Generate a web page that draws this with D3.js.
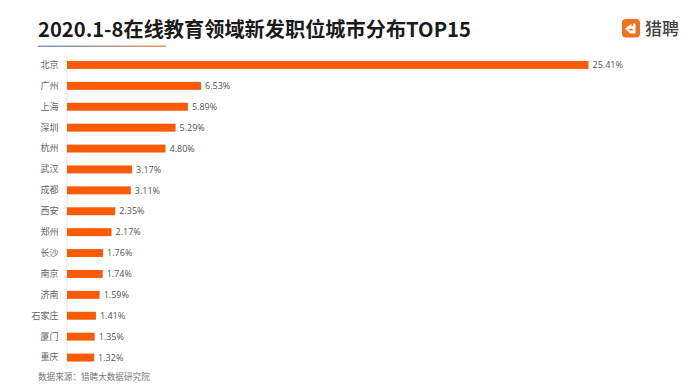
<!DOCTYPE html>
<html>
<head>
<meta charset="utf-8">
<script src="https://cdn.jsdelivr.net/npm/d3@7"></script>
<style>
  html, body { margin: 0; padding: 0; background: #fff; }
  svg { display: block; }
  text { font-family: "Noto Sans CJK SC", "Noto Sans", sans-serif; }
</style>
</head>
<body>
<div id="chart"></div>
<script>
const cities = ["北京", "广州", "上海", "深圳", "杭州", "武汉", "成都", "西安", "郑州", "长沙", "南京", "济南", "石家庄", "厦门", "重庆"];
const shares = [25.41, 6.53, 5.89, 5.29, 4.80, 3.17, 3.11, 2.35, 2.17, 1.76, 1.74, 1.59, 1.41, 1.35, 1.32];
const titleText = "2020.1-8在线教育领域新发职位城市分布TOP15";
const sourceText = "数据来源：猎聘大数据研究院";
const logoText = "猎聘";

const width = 689, height = 391;
const margin = {top: 54.5, right: 100, bottom: 23, left: 67};

const svg = d3.select("#chart").append("svg")
    .attr("width", width)
    .attr("height", height);

// title + underline
svg.append("text")
    .attr("x", 38)
    .attr("y", 37)
    .attr("font-size", 20.2)
    .attr("font-weight", 700)
    .attr("fill", "#1a1a1a")
    .text(titleText);

const grad = svg.append("defs").append("linearGradient").attr("id", "underline");
grad.append("stop").attr("offset", "0%").attr("stop-color", "#6f9bd1");
grad.append("stop").attr("offset", "100%").attr("stop-color", "#f0925f");

svg.append("rect")
    .attr("x", 38).attr("y", 45.5)
    .attr("width", 128).attr("height", 1.5)
    .attr("fill", "url(#underline)");

// scales
const x = d3.scaleLinear()
    .domain([0, 25.41])
    .range([margin.left, 588.5]);

const y = d3.scaleBand()
    .domain(cities)
    .range([margin.top, height - margin.bottom])
    .paddingInner(0.62)
    .paddingOuter(0.31);

// category axis
const yAxis = svg.append("g")
    .attr("transform", `translate(${margin.left - 0.5},0)`)
    .call(d3.axisLeft(y).tickSize(0).tickPadding(8));

yAxis.select(".domain").attr("stroke", "#e8e8e8");
yAxis.selectAll("text")
    .attr("font-size", 9)
    .attr("fill", "#666")
    .style("font-family", '"Noto Sans CJK SC", sans-serif');

// bars
svg.selectAll("rect.bar")
    .data(shares)
    .enter().append("rect")
    .attr("class", "bar")
    .attr("x", x(0))
    .attr("y", (d, i) => y(cities[i]))
    .attr("width", d => x(d) - x(0))
    .attr("height", y.bandwidth())
    .attr("fill", "#fd5a06");

// value labels
svg.selectAll("text.val")
    .data(shares)
    .enter().append("text")
    .attr("class", "val")
    .attr("x", d => x(d) + 4)
    .attr("y", (d, i) => y(cities[i]) + y.bandwidth() / 2)
    .attr("dy", "0.35em")
    .attr("font-size", 9)
    .attr("fill", "#555")
    .style("font-family", '"Open Sans", sans-serif')
    .text(d => d.toFixed(2) + "%");

// source note
svg.append("text")
    .attr("x", 38)
    .attr("y", 380)
    .attr("font-size", 8.6)
    .attr("fill", "#777")
    .text(sourceText);

// logo
const logo = svg.append("g").attr("transform", "translate(622,19)");
logo.append("rect")
    .attr("width", 18).attr("height", 18.5).attr("rx", 4)
    .attr("fill", "#f4701c");
logo.append("path")
    .attr("d", d3.line()([[3, 9.5], [9.5, 5], [9.5, 7.5], [11, 7], [11, 4.5], [13.5, 4.5], [13.5, 14.5], [8, 14.5]]) + "Z")
    .attr("fill", "#fff");
logo.append("path")
    .attr("d", d3.line()([[6.5, 9.7], [10.5, 9.7], [10.5, 11.5], [8, 11.5]]) + "Z")
    .attr("fill", "#f4701c");
logo.append("text")
    .attr("x", 23)
    .attr("y", 15.5)
    .attr("font-size", 17)
    .attr("font-weight", 500)
    .attr("fill", "#444")
    .text(logoText);
</script>
</body>
</html>
